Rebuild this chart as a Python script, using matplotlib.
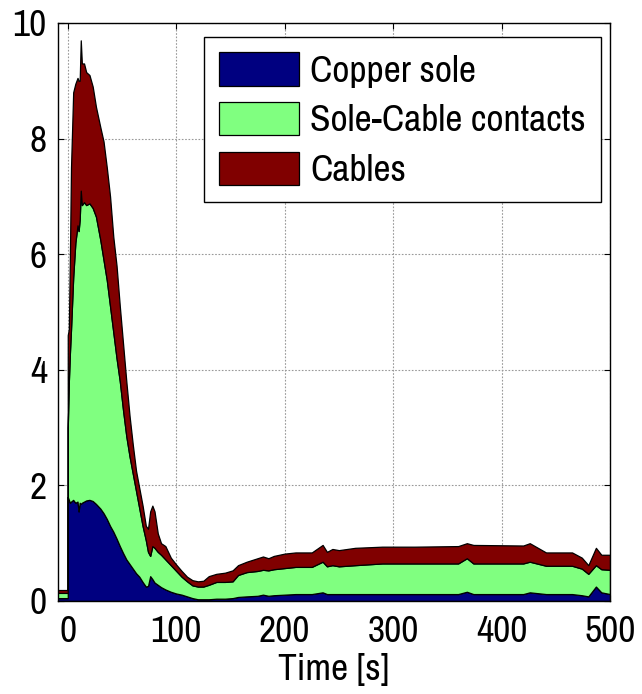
import numpy as np
import matplotlib
matplotlib.use('Agg')
import matplotlib.pyplot as plt

plt.rcParams['font.family'] = ['Archivo Narrow', 'Roboto Condensed', 'Liberation Sans']

# time axis [s]
t = [-10, 0, 0, 1, 2, 3, 5, 7, 9, 10, 11, 12, 13, 15, 17, 20, 23, 26, 30, 33,
     36, 39, 42, 45, 48, 51, 54, 57, 60, 63, 66, 69, 72, 74, 76, 78, 80, 83, 86, 90,
     95, 100, 105, 110, 115, 120, 125, 130, 137, 145, 152, 157, 165, 175, 180, 185, 190, 200, 210, 225,
     235, 239, 244, 250, 265, 290, 320, 360, 368, 374, 420, 426, 441, 465, 474, 480, 487, 492, 500]

# upper edge of each stacked layer
sole_top = [.05, .05, 1.8, 1.75, 1.7, 1.72, 1.75, 1.7, 1.72, 1.55, 1.7, 1.68, 1.7, 1.72, 1.74, 1.75, 1.73, 1.68, 1.6, 1.52,
            1.42, 1.3, 1.2, 1.08, .95, .83, .72, .64, .56, .48, .42, .33, .25, .26, .43, .38, .32, .28, .24, .2,
            .16, .13, .11, .08, .05, .03, .03, .03, .04, .04, .05, .07, .08, .09, .11, .09, .1, .11, .12, .12,
            .15, .12, .12, .12, .12, .12, .12, .12, .16, .12, .12, .15, .12, .12, .1, .08, .25, .15, .12]
contacts_top = [.14, .14, 3.0, 3.8, 4.3, 4.7, 5.6, 6.2, 6.5, 6.4, 6.6, 7.1, 6.85, 6.9, 6.85, 6.88, 6.8, 6.65, 6.25, 5.9,
                5.55, 5.1, 4.65, 4.2, 3.8, 3.3, 2.85, 2.5, 2.2, 1.9, 1.6, 1.3, 1.05, .85, .78, .95, .92, .85, .8, .72,
                .62, .52, .42, .34, .27, .25, .25, .28, .33, .33, .34, .45, .5, .52, .54, .53, .55, .57, .59, .59,
                .68, .6, .62, .6, .62, .65, .65, .65, .74, .65, .65, .68, .61, .61, .56, .47, .62, .55, .54]
cables_top = [.19, .19, 4.6, 4.7, 6.0, 7.5, 8.8, 8.95, 9.05, 9.0, 9.0, 9.7, 9.3, 9.3, 9.15, 9.1, 8.9, 8.55, 8.2, 7.95,
              7.5, 7.0, 6.3, 5.8, 5.1, 4.45, 3.8, 3.2, 2.7, 2.25, 1.95, 1.65, 1.3, 1.25, 1.55, 1.65, 1.55, 1.17, 1.0, .95,
              .75, .63, .52, .42, .36, .34, .35, .43, .47, .49, .53, .62, .68, .74, .77, .74, .78, .82, .84, .84,
              .97, .85, .9, .88, .92, .94, .94, .95, 1.0, .97, .96, 1.0, .84, .84, .75, .62, .92, .8, .8]

labels = ['Copper sole', 'Sole-Cable contacts', 'Cables']
colors = ['#000080', '#80ff80', '#800000']

copper = np.array(sole_top)
contacts = np.array(contacts_top) - copper
cables = np.array(cables_top) - np.array(contacts_top)

fig = plt.figure(figsize=(6.42, 6.94), dpi=100)
ax = fig.add_axes([58 / 642, 93 / 694, 552 / 642, 578 / 694])

ax.stackplot(t, copper, contacts, cables, labels=labels, colors=colors,
             edgecolor='k', linewidth=0.9)

ax.set_xlim(-9, 500)
ax.set_ylim(0, 10)
ax.set_xticks([0, 100, 200, 300, 400, 500])
ax.set_yticks([0, 2, 4, 6, 8, 10])
ax.set_axisbelow(True)
ax.grid(True, linestyle=(0, (1.5, 1.5)), color='#999999', linewidth=0.8)
ax.tick_params(direction='in', length=4, width=0.8, top=True, right=True, labelsize=27)
ax.tick_params(axis='x', pad=10)
ax.tick_params(axis='y', pad=8)
for s in ax.spines.values():
    s.set_linewidth(1.0)

ax.set_xlabel('Time [s]', fontsize=27, labelpad=4)

leg = ax.legend(loc='upper right', bbox_to_anchor=(0.9837, 0.9758), borderaxespad=0,
                fontsize=27, fancybox=False, edgecolor='k', framealpha=1,
                handlelength=2.15, handleheight=1.0, handletextpad=0.3,
                labelspacing=0.38, borderpad=0.4)
leg.get_frame().set_linewidth(1.0)

fig.savefig('out.png', dpi=100)
